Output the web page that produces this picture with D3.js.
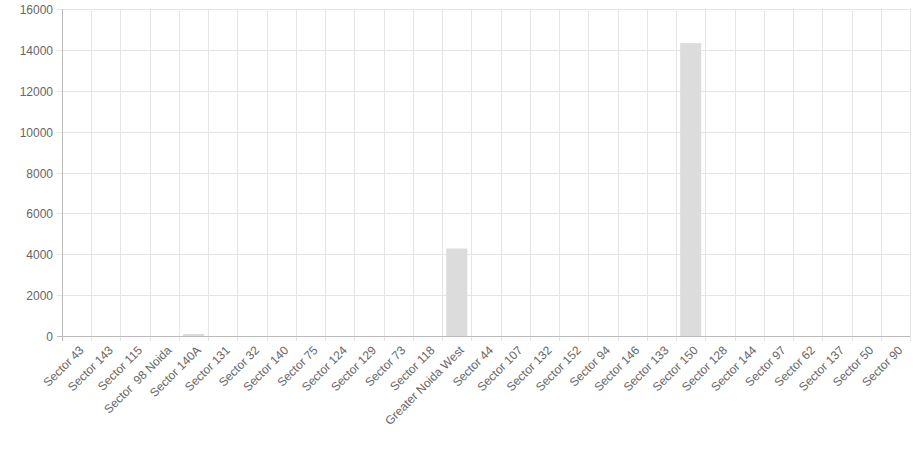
<!DOCTYPE html><html><head><meta charset="utf-8"><script src="https://cdn.jsdelivr.net/npm/d3@7"></script>
<style>body{margin:0;background:#fff}text{font-family:"Liberation Sans",Arial,sans-serif;fill:#666;font-size:12px}</style></head><body>
<svg id="c" width="913" height="456"></svg>
<script>
const categories=["Sector 43","Sector 143","Sector 115","Sector  98 Noida","Sector 140A","Sector 131","Sector 32","Sector 140","Sector 75","Sector 124","Sector 129","Sector 73","Sector 118","Greater Noida West","Sector 44","Sector 107","Sector 132","Sector 152","Sector 94","Sector 146","Sector 133","Sector 150","Sector 128","Sector 144","Sector 97","Sector 62","Sector 137","Sector 50","Sector 90"];
const values=[0,0,0,0,100,0,0,0,0,0,0,0,0,4280,0,0,0,0,0,0,0,14330,0,0,0,0,0,0,0];
const yTicks=[0,2000,4000,6000,8000,10000,12000,14000,16000];
const svg=d3.select("#c");
const L=62,R=910,T=9,B=336;
const x=d3.scaleBand().domain(categories).range([L,R]);
const y=d3.scaleLinear().domain([0,16000]).range([B,T]);
const g=svg.append("g");
// vertical grid
categories.forEach((c,i)=>{const xx=Math.round(x(c))+0.5;g.append("line").attr("x1",xx).attr("x2",xx).attr("y1",T).attr("y2",B+5).attr("stroke","#e5e5e5");});
g.append("line").attr("x1",R+0.5).attr("x2",R+0.5).attr("y1",T).attr("y2",B+5).attr("stroke","#e5e5e5");
yTicks.forEach(t=>{const yy=Math.round(y(t))+0.5;g.append("line").attr("x1",L-5).attr("x2",R).attr("y1",yy).attr("y2",yy).attr("stroke",t===0?"#bbb":"#e5e5e5");
 g.append("text").attr("x",L-9).attr("y",yy+4).attr("text-anchor","end").text(t);});
g.append("line").attr("x1",L+0.5).attr("x2",L+0.5).attr("y1",T).attr("y2",B+5).attr("stroke","#bbb");
const bw=x.bandwidth()*0.72;
g.selectAll("rect").data(values).join("rect").attr("x",(d,i)=>x(categories[i])+(x.bandwidth()-bw)/2).attr("width",bw)
 .attr("y",d=>y(d)).attr("height",d=>B-y(d)).attr("fill","#dcdcdc");
categories.forEach(c=>{const cx=x(c)+x.bandwidth()/2+5;g.append("text").attr("transform",`translate(${cx},${B+12}) rotate(-45)`).attr("text-anchor","end").attr("dy","0.35em").text(c.replace(/ /g,"\u00a0"));});
</script></body></html>
